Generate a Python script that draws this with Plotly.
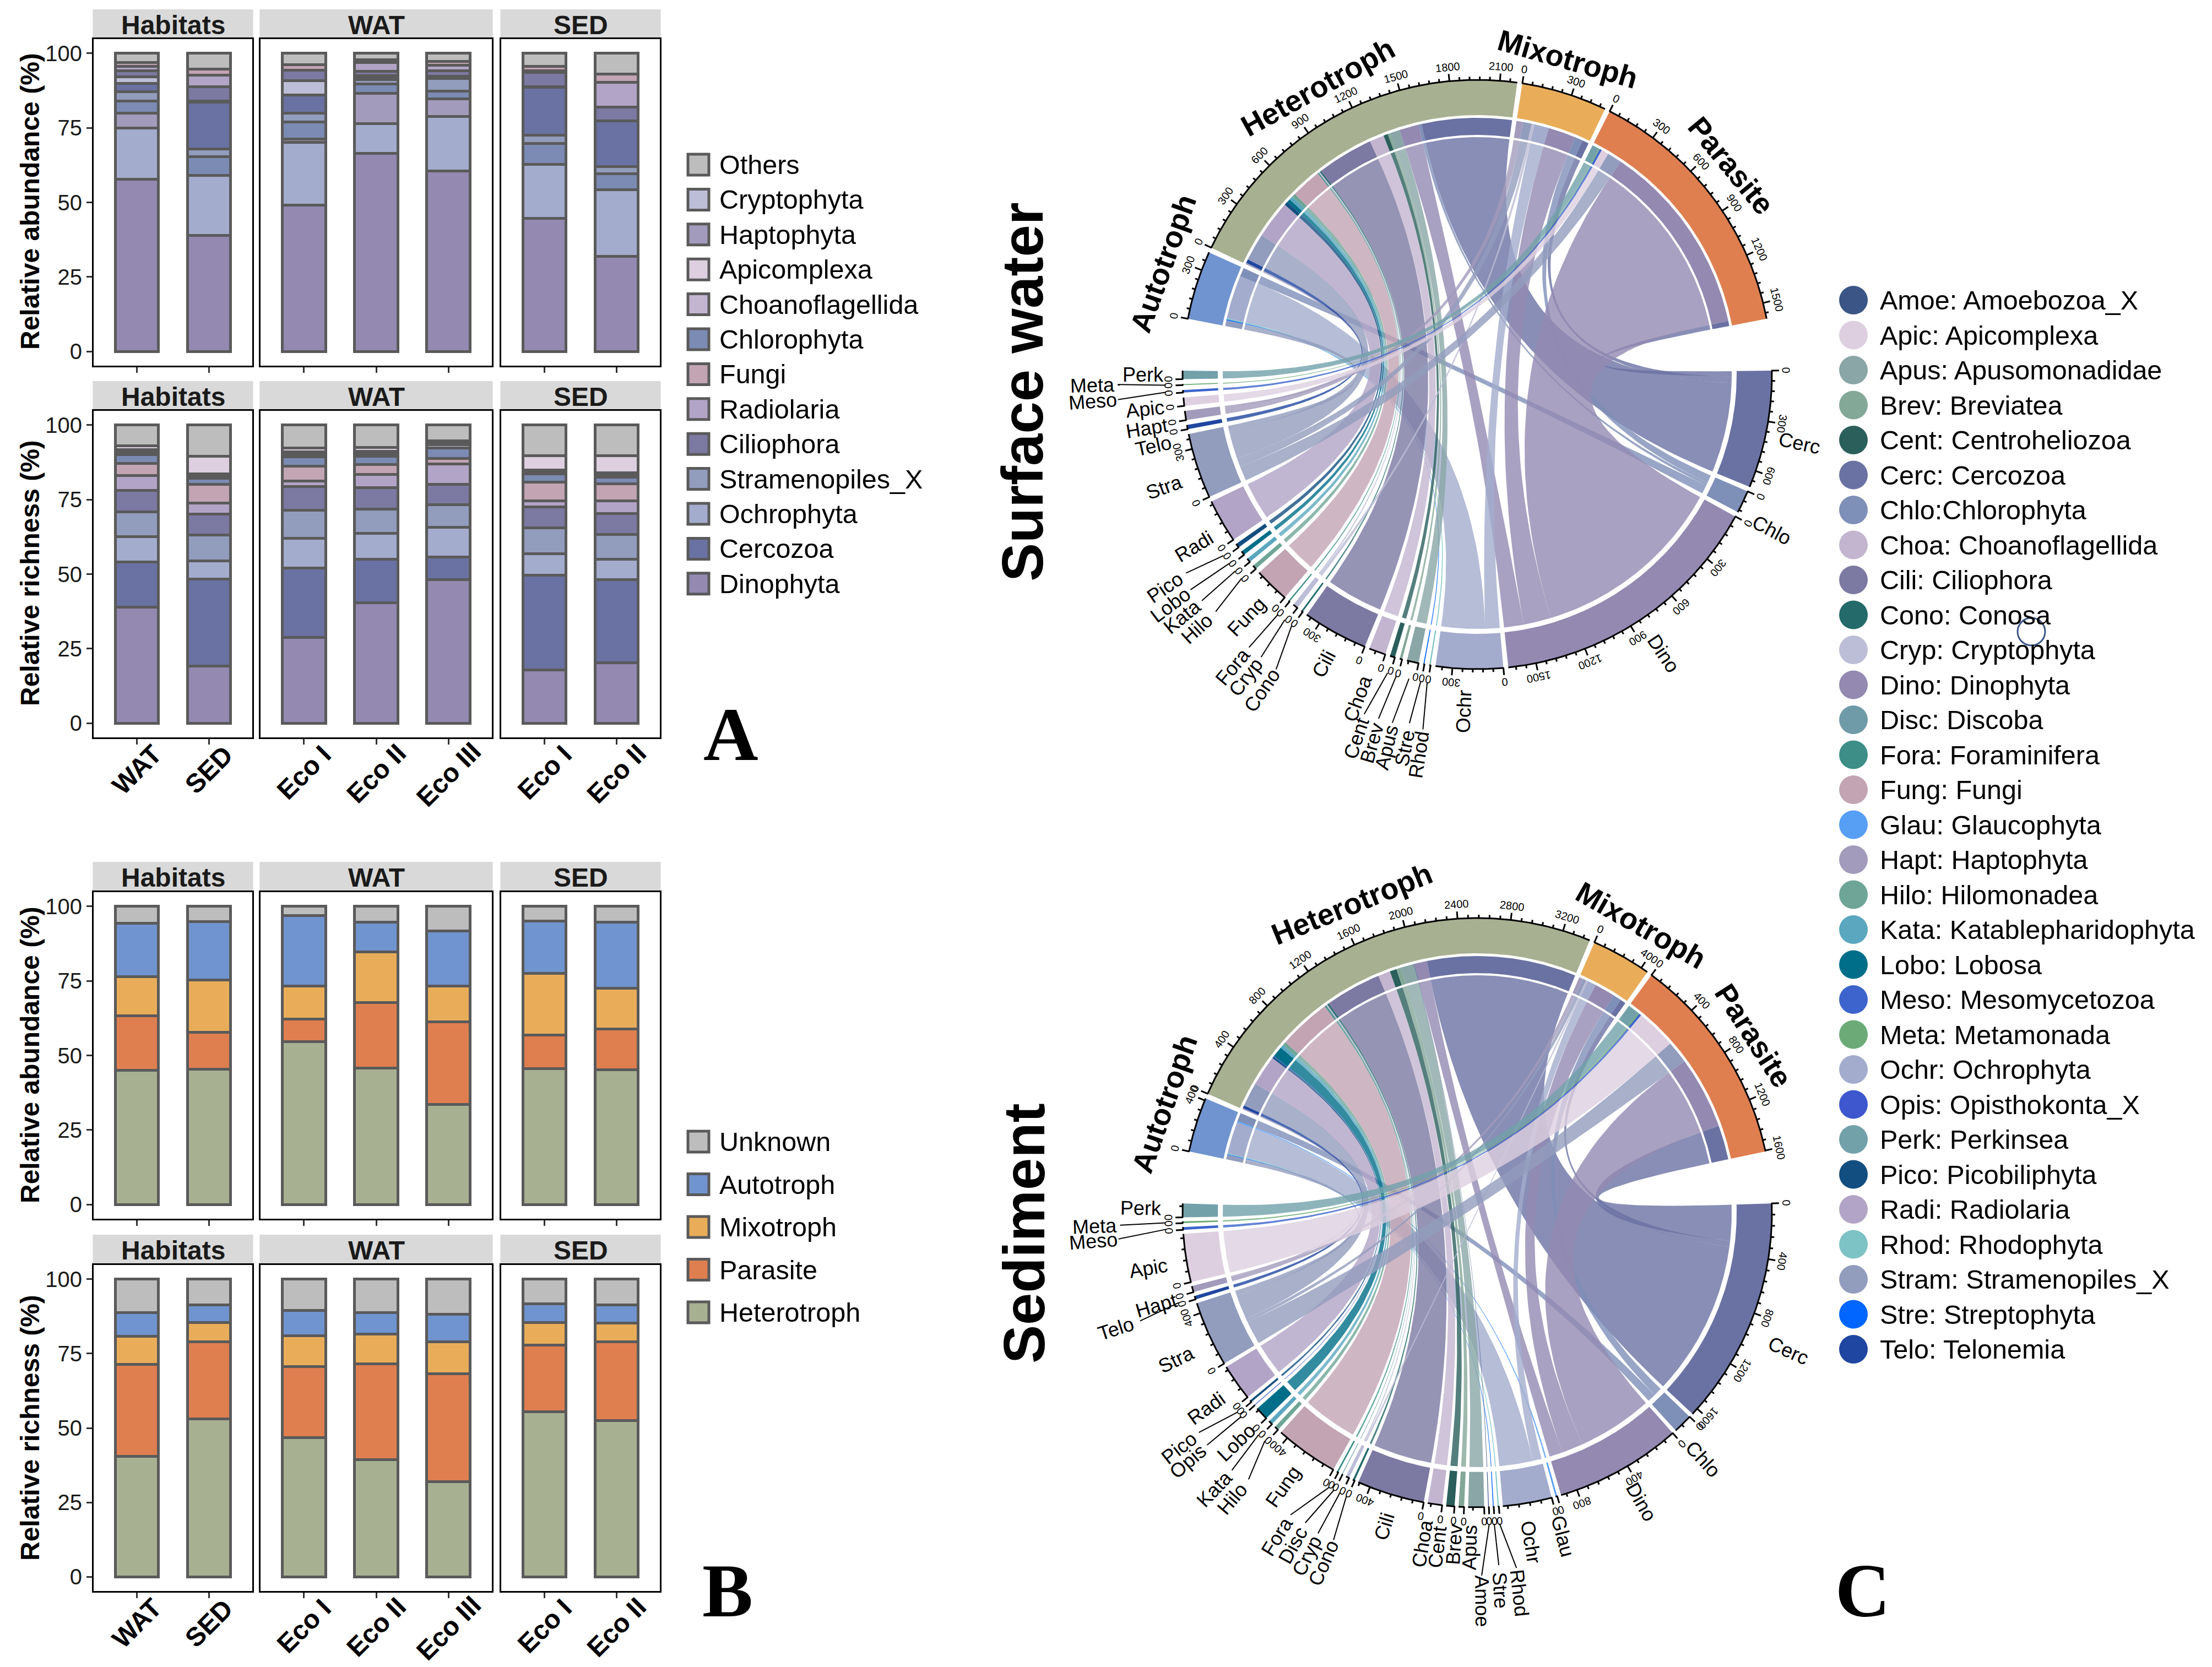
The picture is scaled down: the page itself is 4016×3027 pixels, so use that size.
import math
import plotly.graph_objects as go

W, H = 4016, 3027
FONT = "Liberation Sans"
EDGE = "#5a5a5a"

# ---------- stacked bars ----------
CATS = ["WAT", "SED", "Eco I", "Eco II", "Eco III", "Eco I", "Eco II"]
A_AB_DINO = [57.7, 39.0, 49.1, 66.4, 60.6, 44.6, 31.8]
A_AB_OCHR = [17.2, 20.0, 21.0, 10.1, 18.3, 18.1, 22.4]
A_AB_HAPT = [5.1, 0, 1.1, 10.1, 5.9, 0, 0]
A_AB_CHLO = [4.1, 6.3, 5.7, 3.2, 2.6, 7.0, 5.5]
A_AB_STRA = [3.0, 2.7, 3.1, 1.5, 4.1, 2.9, 2.4]
A_AB_CERC = [2.9, 15.7, 6.0, 0.9, 0.4, 16.1, 15.2]
A_AB_CRYP = [2.1, 0.3, 4.9, 0.4, 0.4, 0.2, 0]
A_AB_CILI = [2.0, 4.8, 3.4, 1.4, 1.8, 4.8, 4.6]
A_AB_RADI = [1.5, 3.9, 0.1, 2.9, 2.0, 0.5, 8.3]
A_AB_FUNG = [1.4, 2.1, 1.8, 0.9, 1.3, 1.5, 2.8]
A_AB_OTHE = [3.0, 5.2, 3.8, 2.2, 2.6, 4.3, 7.0]

A_RI_DINO = [39.0, 19.1, 28.7, 40.3, 48.2, 17.8, 20.2]
A_RI_CERC = [15.0, 29.3, 23.4, 14.6, 7.5, 31.9, 28.0]
A_RI_OCHR = [8.6, 6.1, 10.0, 8.7, 10.1, 7.1, 6.8]
A_RI_STRA = [8.2, 8.7, 9.4, 8.2, 7.5, 8.7, 8.4]
A_RI_CILI = [7.3, 6.9, 7.8, 7.2, 6.9, 7.0, 7.0]
A_RI_RADI = [5.0, 3.7, 1.9, 4.4, 6.8, 2.0, 4.1]
A_RI_FUNG = [4.1, 6.4, 5.0, 3.4, 1.9, 6.4, 5.8]
A_RI_CHLO = [2.9, 1.9, 3.2, 2.8, 3.4, 2.7, 2.3]
A_RI_CHOA = [0.6, 0.7, 0.8, 0.7, 1.2, 0.7, 0.6]
A_RI_HAPT = [0.5, 0.5, 0.5, 0.5, 0.6, 0.3, 0.4]
A_RI_CRYP = [0.5, 0.4, 0.4, 0.4, 0.3, 0.4, 0.4]
A_RI_APIC = [1.3, 5.9, 1.2, 1.4, 0.3, 4.7, 5.7]
A_RI_OTHE = [7.0, 10.4, 7.7, 7.4, 5.3, 10.3, 10.3]

B_AB_HET = [45.0, 45.4, 54.6, 45.8, 33.5, 45.6, 45.2]
B_AB_PAR = [18.4, 12.3, 7.6, 21.9, 27.8, 11.2, 13.7]
B_AB_MIX = [13.0, 17.6, 11.0, 17.0, 11.9, 20.7, 13.7]
B_AB_AUT = [18.0, 19.7, 23.7, 10.1, 18.5, 17.6, 22.2]
B_AB_UNK = [5.6, 5.0, 3.1, 5.2, 8.3, 4.9, 5.2]
B_RI_HET = [40.5, 53.1, 46.8, 39.4, 32.0, 55.4, 52.5]
B_RI_PAR = [30.9, 25.9, 23.9, 32.2, 36.3, 22.5, 26.5]
B_RI_MIX = [9.5, 6.4, 10.4, 9.9, 10.7, 7.5, 6.3]
B_RI_AUT = [7.8, 6.0, 8.5, 7.3, 9.3, 6.3, 6.1]
B_RI_UNK = [11.3, 8.6, 10.4, 11.2, 11.7, 8.3, 8.6]

C_DINO, C_CERC, C_OCHR, C_STRA = "#9389b1", "#6a72a3", "#a3accd", "#929cbd"
C_CILI, C_RADI, C_FUNG, C_CHLO = "#7c79a2", "#b2a4c6", "#c2a4b3", "#7c8bb3"
C_CHOA, C_APIC, C_HAPT, C_CRYP = "#c3b5d0", "#ddcfe0", "#a39bbb", "#bcbdd6"
C_OTHE = "#bdbdbd"
C_HET, C_PAR, C_MIX, C_AUT = "#a8b092", "#df7f50", "#e9ad5a", "#7094cf"

ROW_AB = [(A_AB_DINO, C_DINO), (A_AB_OCHR, C_OCHR), (A_AB_HAPT, C_HAPT), (A_AB_CHLO, C_CHLO),
          (A_AB_STRA, C_STRA), (A_AB_CERC, C_CERC), (A_AB_CRYP, C_CRYP), (A_AB_CILI, C_CILI),
          (A_AB_RADI, C_RADI), (A_AB_FUNG, C_FUNG), (A_AB_OTHE, C_OTHE)]
ROW_RI = [(A_RI_DINO, C_DINO), (A_RI_CERC, C_CERC), (A_RI_OCHR, C_OCHR), (A_RI_STRA, C_STRA),
          (A_RI_CILI, C_CILI), (A_RI_RADI, C_RADI), (A_RI_FUNG, C_FUNG), (A_RI_CHLO, C_CHLO),
          (A_RI_CHOA, C_CHOA), (A_RI_HAPT, C_HAPT), (A_RI_CRYP, C_CRYP), (A_RI_APIC, C_APIC),
          (A_RI_OTHE, C_OTHE)]
ROW_B1 = [(B_AB_HET, C_HET), (B_AB_PAR, C_PAR), (B_AB_MIX, C_MIX), (B_AB_AUT, C_AUT), (B_AB_UNK, C_OTHE)]
ROW_B2 = [(B_RI_HET, C_HET), (B_RI_PAR, C_PAR), (B_RI_MIX, C_MIX), (B_RI_AUT, C_AUT), (B_RI_UNK, C_OTHE)]

LEG_A = ["Others", "Cryptophyta", "Haptophyta", "Apicomplexa", "Choanoflagellida", "Chlorophyta", "Fungi",
         "Radiolaria", "Ciliophora", "Stramenopiles_X", "Ochrophyta", "Cercozoa", "Dinophyta"]
LEG_A_C = [C_OTHE, C_CRYP, C_HAPT, C_APIC, C_CHOA, C_CHLO, C_FUNG, C_RADI, C_CILI, C_STRA, C_OCHR, C_CERC, C_DINO]
LEG_B = ["Unknown", "Autotroph", "Mixotroph", "Parasite", "Heterotroph"]
LEG_B_C = [C_OTHE, C_AUT, C_MIX, C_PAR, C_HET]

# ---------- chord diagrams ----------
COLORS = {"Amoe": "#3b5586", "Apic": "#ddcfe0", "Apus": "#8aa6a6", "Brev": "#84a898", "Cent": "#2a5f5c",
          "Cerc": "#6a72a3", "Chlo": "#7e8fb8", "Choa": "#c3b5d0", "Cili": "#7c79a2", "Cono": "#246a6a",
          "Cryp": "#bcbdd6", "Dino": "#9389b1", "Disc": "#6f9aa8", "Fora": "#3c8e87", "Fung": "#c2a4b3",
          "Glau": "#579ef5", "Hapt": "#a39bbb", "Hilo": "#6ea596", "Kata": "#5aa7bf", "Lobo": "#006e88",
          "Meso": "#3c64cc", "Meta": "#6cab78", "Ochr": "#a3accd", "Opis": "#3e57cf", "Perk": "#72a1aa",
          "Pico": "#124e80", "Radi": "#b2a4c6", "Rhod": "#7dc2c4", "Stra": "#929cbd", "Stre": "#0066ff",
          "Telo": "#1f46a0"}
LEG_C = ["Amoe: Amoebozoa_X", "Apic: Apicomplexa", "Apus: Apusomonadidae", "Brev: Breviatea",
         "Cent: Centroheliozoa", "Cerc: Cercozoa", "Chlo:Chlorophyta", "Choa: Choanoflagellida",
         "Cili: Ciliophora", "Cono: Conosa", "Cryp: Cryptophyta", "Dino: Dinophyta", "Disc: Discoba",
         "Fora: Foraminifera", "Fung: Fungi", "Glau: Glaucophyta", "Hapt: Haptophyta", "Hilo: Hilomonadea",
         "Kata: Katablepharidophyta", "Lobo: Lobosa", "Meso: Mesomycetozoa", "Meta: Metamonada",
         "Ochr: Ochrophyta", "Opis: Opisthokonta_X", "Perk: Perkinsea", "Pico: Picobiliphyta",
         "Radi: Radiolaria", "Rhod: Rhodophyta", "Stram: Stramenopiles_X", "Stre: Streptophyta",
         "Telo: Telonemia"]
LEG_C_KEY = ["Amoe", "Apic", "Apus", "Brev", "Cent", "Cerc", "Chlo", "Choa", "Cili", "Cono", "Cryp", "Dino", "Disc",
             "Fora", "Fung", "Glau", "Hapt", "Hilo", "Kata", "Lobo", "Meso", "Meta", "Ochr", "Opis", "Perk", "Pico",
             "Radi", "Rhod", "Stra", "Stre", "Telo"]

GROUPS = ["Autotroph", "Heterotroph", "Mixotroph", "Parasite"]
GROUP_C = [C_AUT, C_HET, C_MIX, C_PAR]

SW_TAXA = ["Cerc", "Chlo", "Dino", "Ochr", "Rhod", "Stre", "Apus", "Brev", "Cent", "Choa", "Cili", "Cono", "Cryp",
           "Fora", "Fung", "Hilo", "Kata", "Lobo", "Pico", "Radi", "Stra", "Telo", "Hapt", "Apic", "Meso", "Meta", "Perk"]
SW_AUT = [0, 60, 0, 300, 8, 6, 0, 0, 0, 0, 0, 0, 0, 0, 0, 0, 0, 0, 0, 0, 40, 0, 0, 0, 0, 0, 0]
SW_HET = [620, 20, 135, 0, 0, 0, 70, 15, 30, 100, 390, 10, 10, 8, 210, 25, 25, 25, 25, 260, 190, 25, 10, 0, 0, 0, 0]
SW_MIX = [45, 55, 190, 100, 0, 0, 0, 0, 0, 0, 0, 0, 20, 0, 0, 0, 0, 0, 0, 0, 60, 0, 45, 0, 0, 0, 0]
SW_PAR = [35, 0, 1340, 0, 0, 0, 0, 0, 0, 0, 0, 0, 0, 0, 0, 0, 0, 0, 0, 0, 100, 0, 0, 50, 15, 6, 50]
SW_LABELS = {"Pico": (145.7, 686), "Lobo": (143.1, 697), "Kata": (140.6, 693), "Hilo": (137.8, 687),
             "Fora": (129.9, 692), "Cryp": (127.4, 692), "Cono": (124.3, 694), "Cent": (108.4, 696),
             "Brev": (106.0, 696), "Apus": (103.7, 697), "Stre": (101.0, 691), "Rhod": (98.7, 698),
             "Meta": (178.4, 699), "Meso": (176.0, 700), "Perk": (180.0, 607), "Apic": (174.1, 606),
             "Hapt": (170.8, 608), "Telo": (167.6, 602), "Stra": (160.2, 604), "Radi": (148.7, 602),
             "Fung": (133.6, 607), "Cili": (117.9, 595), "Choa": (110.3, 627), "Ochr": (92.3, 612),
             "Dino": (56.3, 609), "Chlo": (27.8, 605), "Cerc": (12.0, 598)}
SW_GROUP_LABELS = [(199.5, 605), (241.0, 597), (286.0, 596), (320.5, 597)]

SE_TAXA = ["Cerc", "Chlo", "Dino", "Glau", "Ochr", "Rhod", "Stre", "Amoe", "Apus", "Brev", "Cent", "Choa", "Cili",
           "Cono", "Cryp", "Disc", "Fora", "Fung", "Hilo", "Kata", "Lobo", "Opis", "Pico", "Radi", "Stra", "Telo",
           "Hapt", "Apic", "Meso", "Meta", "Perk"]
SE_AUT = [0, 70, 0, 12, 280, 8, 6, 0, 0, 0, 0, 0, 0, 0, 0, 0, 0, 0, 0, 0, 0, 0, 0, 0, 40, 0, 0, 0, 0, 0, 0]
SE_HET = [1300, 0, 110, 0, 0, 0, 0, 5, 115, 40, 60, 105, 490, 15, 10, 5, 12, 460, 30, 30, 95, 5, 15, 265, 210, 25, 10, 0, 0, 0, 0]
SE_MIX = [50, 70, 180, 0, 75, 0, 0, 0, 0, 0, 0, 0, 0, 0, 15, 0, 0, 0, 0, 0, 0, 0, 0, 0, 30, 0, 35, 0, 0, 0, 0]
SE_PAR = [300, 0, 630, 0, 0, 0, 0, 0, 0, 0, 0, 0, 0, 0, 0, 0, 0, 0, 0, 0, 0, 0, 0, 0, 195, 0, 0, 350, 20, 12, 100]
SE_LABELS = {"Meta": (178.0, 695), "Meso": (175.8, 699), "Telo": (162.2, 689), "Pico": (141.7, 690),
             "Opis": (139.3, 693), "Kata": (133.6, 692), "Hilo": (130.6, 684), "Fora": (121.7, 691),
             "Disc": (119.0, 690), "Cryp": (116.4, 696), "Cono": (113.7, 695), "Amoe": (89.3, 705),
             "Stre": (86.5, 687), "Rhod": (83.7, 695), "Perk": (180.8, 611), "Apic": (170.4, 605),
             "Hapt": (163.9, 607), "Stra": (154.0, 608), "Radi": (144.2, 607), "Lobo": (136.3, 605),
             "Fung": (125.3, 610), "Cili": (106.5, 594), "Choa": (99.4, 609), "Cent": (96.8, 612),
             "Brev": (94.0, 604), "Apus": (91.3, 608), "Ochr": (80.7, 606), "Glau": (75.2, 608),
             "Dino": (60.4, 604), "Chlo": (47.5, 607), "Cerc": (23.9, 618)}
SE_GROUP_LABELS = [(199.2, 601), (247.9, 605), (299.7, 601), (327.3, 596)]

fig = go.Figure()
ann = []
shapes = []
layout_axes = {}

COLUMNS = [(170, 458, (0, 2), "Habitats"), (473, 893, (2, 5), "WAT"), (910, 1198, (5, 7), "SED")]
ROWS = [(17, 71, 664, ROW_AB, "Relative abundance (%)", 366, False),
        (692, 746, 1339, ROW_RI, "Relative richness (%)", 1041, True),
        (1565, 1620, 2213, ROW_B1, "Relative abundance (%)", 1916, False),
        (2242, 2297, 2889, ROW_B2, "Relative richness (%)", 2593, True)]
OV = 13  # overlay pixel axes
OX, OY = f"x{OV}", f"y{OV}"


def text(x, y, s, size, bold=False, angle=0, xanchor="center", yanchor="middle", family=FONT, color="black"):
    ann.append(dict(x=x, y=y, xref=OX, yref=OY, text=f"<b>{s}</b>" if bold else s, showarrow=False, textangle=angle,
                    xanchor=xanchor, yanchor=yanchor, font=dict(family=family, size=size, color=color),
                    borderpad=0, borderwidth=0))


n = 1
for strip_top, ptop, pbot, series, title, title_y, labelled in ROWS:
    text(54, title_y, title, 48, bold=True, angle=-90)
    for ci, (x0, x1, (a, b), strip) in enumerate(COLUMNS):
        cats = CATS[a:b]
        ncat = len(cats)
        for values, color in series:
            fig.add_trace(go.Bar(x=cats, y=values[a:b], width=0.6, marker=dict(color=color, line=dict(color=EDGE, width=5)),
                                 xaxis="x" if n == 1 else f"x{n}", yaxis="y" if n == 1 else f"y{n}",
                                 showlegend=False, hoverinfo="skip"))
        xkey, ykey = ("xaxis", "yaxis") if n == 1 else (f"xaxis{n}", f"yaxis{n}")
        layout_axes[xkey] = dict(domain=[x0 / W, x1 / W], anchor="y" if n == 1 else f"y{n}", type="category",
                                 categoryorder="array", categoryarray=cats, range=[-0.6, ncat - 0.4], showline=True,
                                 mirror=True, linecolor="black", linewidth=3, ticks="outside", ticklen=10, tickwidth=3,
                                 tickcolor="#333333", showticklabels=False, showgrid=False, zeroline=False,
                                 fixedrange=True)
        layout_axes[ykey] = dict(domain=[1 - pbot / H, 1 - ptop / H], anchor="x" if n == 1 else f"x{n}",
                                 range=[-4.8, 104.8], tickvals=[0, 25, 50, 75, 100], showline=True, mirror=True,
                                 linecolor="black", linewidth=3, showgrid=False, zeroline=False, fixedrange=True,
                                 ticks="outside" if ci == 0 else "", ticklen=10, tickwidth=3, tickcolor="#333333",
                                 showticklabels=ci == 0, tickfont=dict(family=FONT, size=40, color="#1a1a1a"))
        shapes.append(dict(type="rect", xref="paper", yref="paper", x0=x0 / W - 0.0004, x1=x1 / W + 0.0004,
                           y0=1 - ptop / H, y1=1 - strip_top / H, fillcolor="#d9d9d9", line=dict(width=0), layer="below"))
        text((x0 + x1) / 2, (strip_top + ptop) / 2 + 1, strip, 48, bold=True, color="#1a1a1a")
        if labelled:
            for c in cats:
                ann.append(dict(x=c, y=pbot + 52 + 2.2 * len(c), xref="x" if n == 1 else f"x{n}", yref=OY,
                                text=f"<b>{c}</b>", showarrow=False, textangle=-45, xanchor="center", yanchor="middle",
                                font=dict(family=FONT, size=48, color="black")))
        n += 1

layout_axes[f"xaxis{OV}"] = dict(domain=[0, 1], range=[0, W], visible=False, fixedrange=True, anchor=OY)
layout_axes[f"yaxis{OV}"] = dict(domain=[0, 1], range=[H, 0], visible=False, fixedrange=True, anchor=OX)


def ov_scatter(**kw):
    fig.add_trace(go.Scatter(xaxis=OX, yaxis=OY, showlegend=False, hoverinfo="skip", **kw))


def rgba(hexc, a):
    h = hexc.lstrip("#")
    return f"rgba({int(h[:2], 16)},{int(h[2:4], 16)},{int(h[4:], 16)},{a})"


def pol(cx, cy, r, phi):
    t = math.radians(phi)
    return cx + r * math.cos(t), cy + r * math.sin(t)


def arc(cx, cy, r, a0, a1):
    steps = max(2, int(abs(a1 - a0) / 0.5) + 2)
    return [pol(cx, cy, r, a0 + (a1 - a0) * i / (steps - 1)) for i in range(steps)]


def band(cx, cy, r0, r1, a0, a1, color):
    pts = arc(cx, cy, r1, a0, a1) + arc(cx, cy, r0, a1, a0)
    ov_scatter(x=[p[0] for p in pts], y=[p[1] for p in pts], mode="lines", fill="toself", fillcolor=color,
               line=dict(width=0))


def bezier(p0, c, p1):
    out = []
    for i in range(41):
        t = i / 40
        out.append(((1 - t) ** 2 * p0[0] + 2 * t * (1 - t) * c[0] + t * t * p1[0],
                    (1 - t) ** 2 * p0[1] + 2 * t * (1 - t) * c[1] + t * t * p1[1]))
    return out


def chord(cx, cy, taxa, flows, t_start, t_end, g_start, g_end, t_gap, major, labels, group_labels):
    minor = major / 5
    totals = [sum(f[i] for f in flows) for i in range(len(taxa))]
    T = sum(totals)
    st = (t_end - t_start - (len(taxa) - 1) * t_gap) / T
    sg = (g_end - g_start - 3) / T
    R0, R1 = 471, 534
    Rt, Rb1, Rb0, Rg = 462, 466, 435, 431
    seg_t, seg_g = {}, {}
    ticks_x, ticks_y = [], []
    lead_x, lead_y = [], []
    centre = (cx, cy)

    def axis(a0, scale, total):
        pts = arc(cx, cy, R1 + 1, a0, a0 + scale * total)
        ticks_x.extend([p[0] for p in pts] + [None])
        ticks_y.extend([p[1] for p in pts] + [None])
        v = 0
        while v <= total + 1e-6:
            phi = a0 + v * scale
            is_major = abs(v / major - round(v / major)) < 1e-6
            p0, p1 = pol(cx, cy, R1, phi), pol(cx, cy, R1 + (14 if is_major else 7), phi)
            ticks_x.extend([p0[0], p1[0], None])
            ticks_y.extend([p0[1], p1[1], None])
            if is_major:
                lx, ly = pol(cx, cy, R1 + 27, phi)
                text(lx, ly, str(int(v)), 20, angle=((90 + phi + 180) % 360) - 180)
            v += minor

    # taxa sectors, clockwise from the right-hand side
    a = t_start
    for i, name in enumerate(taxa):
        span = totals[i] * st
        band(cx, cy, R0, R1, a, a + span, COLORS[name])
        axis(a, st, totals[i])
        mid = a + span / 2
        cur = a
        for g in (3, 2, 1, 0):
            w = flows[g][i] * st
            if w > 0:
                seg_t[(g, i)] = (cur, cur + w)
                cur += w
        lphi, lr = labels.get(name, (mid, 610))
        if lr > 650:
            p0, p1 = pol(cx, cy, 566, mid), pol(cx, cy, lr - 46, lphi)
            lead_x.extend([p0[0], p1[0], None])
            lead_y.extend([p0[1], p1[1], None])
        lx, ly = pol(cx, cy, lr, lphi)
        rot = lphi if lphi <= 90 else lphi - 180
        text(lx, ly, name, 36, angle=rot)
        a += span + t_gap

    # trophic group sectors
    a = g_start
    for g, gname in enumerate(GROUPS):
        total = sum(flows[g])
        span = total * sg
        band(cx, cy, R0, R1, a, a + span, GROUP_C[g])
        axis(a, sg, total)
        lphi, lr = group_labels[g]
        lx, ly = pol(cx, cy, lr, lphi)
        text(lx, ly, gname, 54, bold=True, angle=((90 + lphi + 180) % 360) - 180)
        cur = a
        for i in range(len(taxa) - 1, -1, -1):
            w = flows[g][i] * sg
            if w > 0:
                seg_g[(g, i)] = (cur, cur + w)
                band(cx, cy, Rb0, Rb1, cur, cur + w, COLORS[taxa[i]])
                cur += w
        a += span + 1

    # ribbons: quadratic curves pulled through the centre of the circle
    for g in range(4):
        for i in range(len(taxa)):
            if (g, i) not in seg_g:
                continue
            g0, g1 = seg_g[(g, i)]
            t0, t1 = seg_t[(g, i)]
            pts = arc(cx, cy, Rg, g0, g1)
            pts += bezier(pol(cx, cy, Rg, g1), centre, pol(cx, cy, Rt, t0))
            pts += arc(cx, cy, Rt, t0, t1)
            pts += bezier(pol(cx, cy, Rt, t1), centre, pol(cx, cy, Rg, g0))
            ov_scatter(x=[p[0] for p in pts], y=[p[1] for p in pts], mode="lines", fill="toself",
                       fillcolor=rgba(COLORS[taxa[i]], 0.8), line=dict(width=0))

    ov_scatter(x=ticks_x, y=ticks_y, mode="lines", line=dict(color="black", width=3))
    ov_scatter(x=lead_x, y=lead_y, mode="lines", line=dict(color="black", width=2))


chord(2682, 680, SW_TAXA, [SW_AUT, SW_HET, SW_MIX, SW_PAR], -0.75, 180.75, 190.9, 349.1, 0.96, 300, SW_LABELS, SW_GROUP_LABELS)
chord(2682, 2202, SE_TAXA, [SE_AUT, SE_HET, SE_MIX, SE_PAR], -1.8, 181.8, 192, 348, 0.78, 400, SE_LABELS, SE_GROUP_LABELS)

text(1856, 712, "Surface water", 105, bold=True, angle=-90)
text(1859, 2240, "Sediment", 105, bold=True, angle=-90)

# ---------- legends ----------
def swatches(names, cols, y0, step):
    ys = [y0 + step * i for i in range(len(names))]
    ov_scatter(x=[1268] * len(names), y=ys, mode="markers",
               marker=dict(symbol="square", size=38, color=cols, line=dict(color=EDGE, width=5)))
    for nm, yy in zip(names, ys):
        text(1306, yy, nm, 48.5, xanchor="left")


swatches(LEG_A, LEG_A_C, 299, 63.4)
swatches(LEG_B, LEG_B_C, 2073, 77.5)

ys = [545 + 63.5 * i for i in range(len(LEG_C))]
ov_scatter(x=[3365] * len(LEG_C), y=ys, mode="markers",
           marker=dict(symbol="circle", size=52, color=[COLORS[k] for k in LEG_C_KEY], line=dict(width=0)))
for nm, yy in zip(LEG_C, ys):
    text(3413, yy, nm, 48.5, xanchor="left")
ov_scatter(x=[3688], y=[1147], mode="markers",
           marker=dict(symbol="circle-open", size=50, color="#3c5687", line=dict(color="#3c5687", width=3)))

text(1327, 1333, "A", 138, bold=True, family="Liberation Serif")
text(1321, 2888, "B", 138, bold=True, family="Liberation Serif")
text(3382, 2888, "C", 138, bold=True, family="Liberation Serif")

fig.update_layout(width=W, height=H, margin=dict(l=0, r=0, t=0, b=0), paper_bgcolor="white",
                  plot_bgcolor="rgba(0,0,0,0)", barmode="stack", showlegend=False, annotations=ann, shapes=shapes,
                  font=dict(family=FONT), **layout_axes)
fig.write_html("out.html", config={"displayModeBar": False}, post_script="document.body.style.margin='0';")
